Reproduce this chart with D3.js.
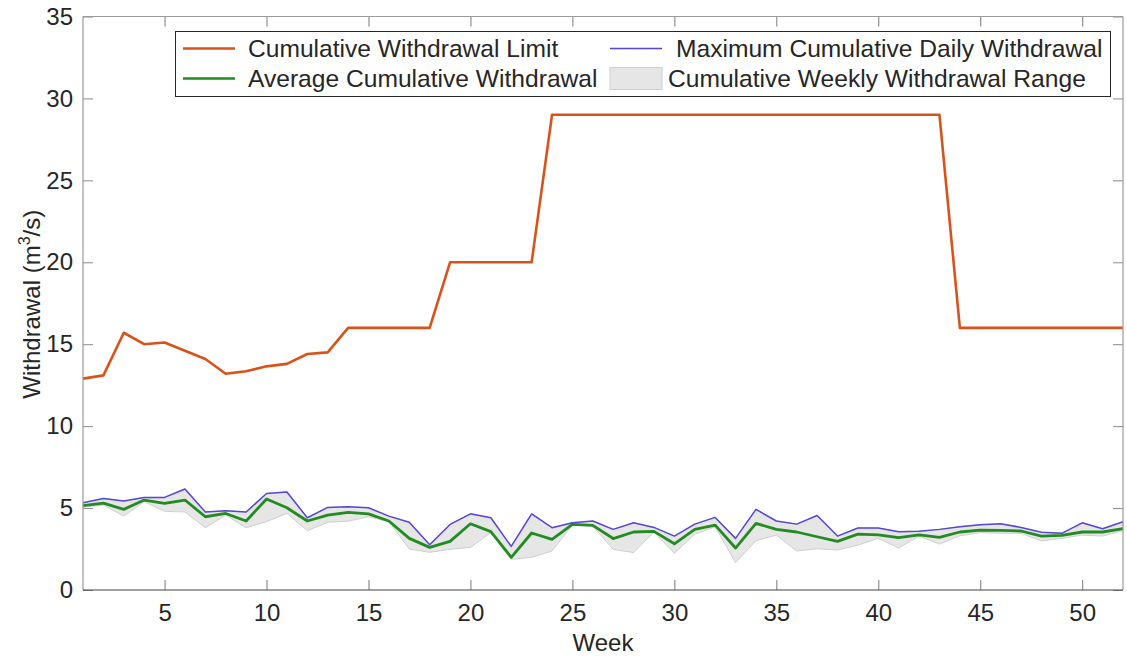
<!DOCTYPE html>
<html>
<head>
<meta charset="utf-8">
<script src="https://cdn.jsdelivr.net/npm/d3@7"></script>
<style>
  html, body { margin: 0; padding: 0; background: #fff; }
  svg { display: block; }
  text { font-family: "Liberation Sans", Arial, Helvetica, sans-serif; fill: #262626; }
</style>
</head>
<body>
<svg id="chart" width="1127" height="661"></svg>
<script>
// Week numbers
const weeks = [1,2,3,4,5,6,7,8,9,10,11,12,13,14,15,16,17,18,19,20,21,22,23,24,25,26,
               27,28,29,30,31,32,33,34,35,36,37,38,39,40,41,42,43,44,45,46,47,48,49,50,51,52];

// Cumulative withdrawal limit (m^3/s)
const limitValues = [12.9,13.1,15.7,15.0,15.1,14.6,14.1,13.2,13.35,13.65,13.8,14.4,14.5,16,16,16,16,16,
                     20,20,20,20,20,29,29,29,29,29,29,29,29,29,29,29,29,29,29,29,29,29,29,29,29,
                     16,16,16,16,16,16,16,16,16];

// Maximum cumulative daily withdrawal (m^3/s)
const maxDaily = [5.32,5.59,5.43,5.65,5.65,6.16,4.76,4.84,4.76,5.89,5.98,4.41,5.04,5.08,5.02,4.51,4.13,2.76,
                  4.0,4.65,4.41,2.66,4.65,3.8,4.1,4.21,3.70,4.1,3.82,3.29,4.02,4.43,3.15,4.92,4.21,4.02,
                  4.55,3.29,3.78,3.78,3.56,3.58,3.70,3.86,3.98,4.04,3.82,3.52,3.46,4.1,3.74,4.17];

// Average cumulative withdrawal (m^3/s)
const avgWithdrawal = [5.15,5.30,4.92,5.49,5.28,5.49,4.47,4.67,4.21,5.55,5.02,4.21,4.57,4.74,4.65,4.21,3.15,2.6,
                       2.97,4.04,3.56,1.99,3.48,3.09,4.0,3.94,3.14,3.54,3.58,2.82,3.70,3.96,2.56,4.07,3.70,3.54,
                       3.25,2.97,3.41,3.37,3.19,3.37,3.21,3.54,3.66,3.64,3.60,3.29,3.33,3.54,3.54,3.74];

// Lower bound of the cumulative weekly withdrawal range (m^3/s)
const rangeLow = [5.05,5.18,4.51,5.39,4.8,4.76,3.8,4.57,3.8,4.17,4.67,3.62,4.13,4.2,4.47,4.17,2.5,2.3,
                  2.48,2.6,3.5,1.87,1.99,2.38,3.97,3.9,2.48,2.28,3.54,2.24,3.41,3.86,1.67,3.01,3.35,2.38,
                  2.52,2.44,2.74,3.15,2.56,3.29,2.8,3.31,3.5,3.46,3.46,2.99,3.15,3.35,3.29,3.62];
// Upper bound of the range follows the daily maximum
const rangeHigh = maxDaily;

const xTicks = [5,10,15,20,25,30,35,40,45,50];
const yTicks = [0,5,10,15,20,25,30,35];

const legendLabels = ["Cumulative Withdrawal Limit", "Average Cumulative Withdrawal",
                      "Maximum Cumulative Daily Withdrawal", "Cumulative Weekly Withdrawal Range"];

const colors = { limit: "#D95319", avg: "#228B22", max: "#5646D6", rangeFill: "#E6E6E6", rangeEdge: "#CFCFCF" };

const svg = d3.select("#chart");
const plotLeft = 83, plotRight = 1123, plotTop = 16.5, plotBottom = 590;

const x = d3.scaleLinear().domain([1, 52]).range([plotLeft, plotRight]);
const y = d3.scaleLinear().domain([0, 35]).range([plotBottom, plotTop]);

const rows = weeks.map((w, i) => ({ w, limit: limitValues[i], max: maxDaily[i], avg: avgWithdrawal[i], lo: rangeLow[i], hi: rangeHigh[i] }));

// Range band
svg.append("path")
  .datum(rows)
  .attr("d", d3.area().x(d => x(d.w)).y0(d => y(d.lo)).y1(d => y(d.hi)))
  .attr("fill", colors.rangeFill)
  .attr("stroke", colors.rangeEdge)
  .attr("stroke-width", 1);

const line = key => d3.line().x(d => x(d.w)).y(d => y(d[key]));

svg.append("path").datum(rows).attr("d", line("limit"))
  .attr("fill", "none").attr("stroke", colors.limit).attr("stroke-width", 2.6).attr("stroke-linejoin", "round");
svg.append("path").datum(rows).attr("d", line("max"))
  .attr("fill", "none").attr("stroke", colors.max).attr("stroke-width", 1.5).attr("stroke-linejoin", "round");
svg.append("path").datum(rows).attr("d", line("avg"))
  .attr("fill", "none").attr("stroke", colors.avg).attr("stroke-width", 2.8).attr("stroke-linejoin", "round");

// Axes with inward ticks on all four sides
const tickLen = 10;
const axisBottom = d3.axisBottom(x).tickValues(xTicks).tickSize(-tickLen).tickPadding(14).tickFormat(d3.format("d"));
const axisTop = d3.axisTop(x).tickValues(xTicks).tickSize(-tickLen).tickFormat("");
const axisLeft = d3.axisLeft(y).tickValues(yTicks).tickSize(-tickLen).tickPadding(10).tickFormat(d3.format("d"));
const axisRight = d3.axisRight(y).tickValues(yTicks).tickSize(-tickLen).tickFormat("");

function styleAxis(g, col) {
  g.select(".domain").remove();
  g.selectAll(".tick line").attr("stroke", col).attr("stroke-width", 1);
  g.selectAll(".tick text").attr("font-size", 24).attr("fill", "#262626")
    .style("font-family", "'Liberation Sans', Arial, sans-serif");
}

svg.append("g").attr("transform", `translate(0,${plotBottom})`).call(axisBottom).call(g => styleAxis(g, "#7a7a7a"));
svg.append("g").attr("transform", `translate(0,${plotTop})`).call(axisTop).call(g => styleAxis(g, "#7a7a7a"));
svg.append("g").attr("transform", `translate(${plotLeft},0)`).call(axisLeft).call(g => styleAxis(g, "#8a8a8a"));
svg.append("g").attr("transform", `translate(${plotRight},0)`).call(axisRight).call(g => styleAxis(g, "#8a8a8a"));

// Box
svg.append("line").attr("x1", plotLeft).attr("x2", plotLeft).attr("y1", plotTop).attr("y2", plotBottom).attr("stroke", "#9a9a9a").attr("stroke-width", 1.2);
svg.append("line").attr("x1", plotRight).attr("x2", plotRight).attr("y1", plotTop).attr("y2", plotBottom).attr("stroke", "#9a9a9a").attr("stroke-width", 1.2);
svg.append("line").attr("x1", plotLeft).attr("x2", plotRight).attr("y1", plotTop).attr("y2", plotTop).attr("stroke", "#9a9a9a").attr("stroke-width", 1.2);
svg.append("line").attr("x1", plotLeft).attr("x2", plotRight).attr("y1", plotBottom).attr("y2", plotBottom).attr("stroke", "#444").attr("stroke-width", 1.2);

// Axis titles
svg.append("text").attr("x", (plotLeft + plotRight) / 2).attr("y", 651).attr("text-anchor", "middle")
  .attr("font-size", 24).text("Week");

const yl = svg.append("text").attr("transform", `translate(40,${(plotTop + plotBottom) / 2 + 1}) rotate(-90)`)
  .attr("text-anchor", "middle").attr("font-size", 24);
yl.append("tspan").text("Withdrawal (m");
yl.append("tspan").attr("font-size", 16).attr("dy", -10).text("3");
yl.append("tspan").attr("dy", 10).text("/s)");

// Legend
const lg = svg.append("g");
lg.append("rect").attr("x", 175.5).attr("y", 31.5).attr("width", 935).attr("height", 65)
  .attr("fill", "#fff").attr("stroke", "#262626").attr("stroke-width", 1);

const legendItems = [
  { label: legendLabels[0], type: "line", color: colors.limit, width: 2.6, sx: 183, tx: 248, row: 0 },
  { label: legendLabels[1], type: "line", color: colors.avg, width: 2.6, sx: 183, tx: 248, row: 1 },
  { label: legendLabels[2], type: "line", color: colors.max, width: 1.5, sx: 610, tx: 676, row: 0 },
  { label: legendLabels[3], type: "patch", sx: 610, tx: 668, row: 1 }
];
const rowY = [48.5, 78.5];
legendItems.forEach(it => {
  const cy = rowY[it.row];
  if (it.type === "line") {
    lg.append("line").attr("x1", it.sx).attr("x2", it.sx + 52).attr("y1", cy).attr("y2", cy)
      .attr("stroke", it.color).attr("stroke-width", it.width);
  } else {
    lg.append("rect").attr("x", it.sx).attr("y", cy - 11).attr("width", 52).attr("height", 22)
      .attr("fill", colors.rangeFill).attr("stroke", colors.rangeEdge).attr("stroke-width", 1);
  }
  lg.append("text").attr("x", it.tx).attr("y", cy + 8.5).attr("font-size", 24.6).text(it.label);
});
</script>
</body>
</html>
